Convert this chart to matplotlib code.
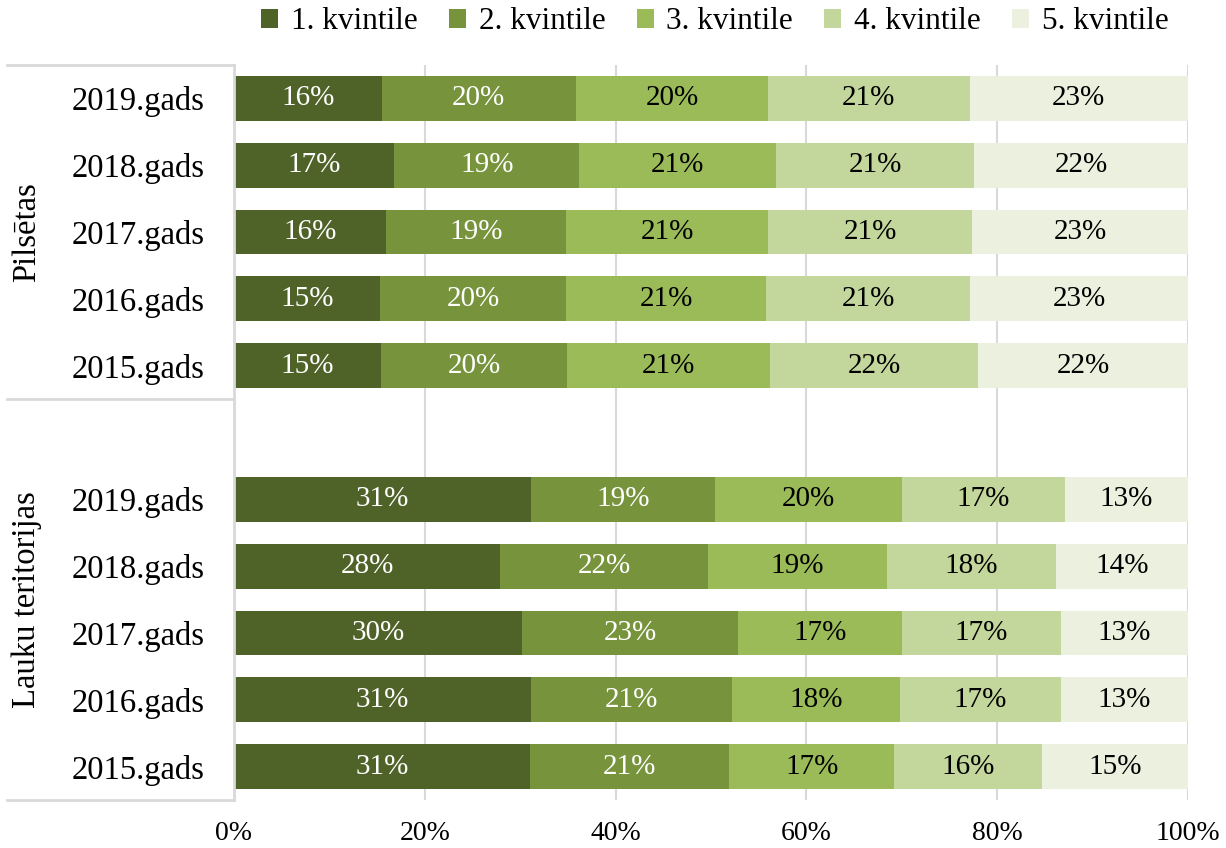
import numpy as np
import matplotlib
matplotlib.use('Agg')
import matplotlib.pyplot as plt
from matplotlib import transforms

plt.rcParams['font.family'] = ['Liberation Serif', 'DejaVu Serif']

# Dane: udziały kwintyli (%) — od góry do dołu
grupy = ['Pilsētas', 'Lauku teritorijas']
lata = ['2019.gads', '2018.gads', '2017.gads', '2016.gads', '2015.gads']
kwintyle = ['1. kvintile', '2. kvintile', '3. kvintile', '4. kvintile', '5. kvintile']

pilsetas = [
    [15.5, 20.3, 20.2, 21.1, 22.9],
    [16.8, 19.4, 20.6, 20.8, 22.4],
    [15.9, 18.9, 21.2, 21.4, 22.6],
    [15.3, 19.5, 21.0, 21.4, 22.8],
    [15.4, 19.5, 21.3, 21.8, 22.0],
]
lauku = [
    [31.1, 19.3, 19.6, 17.1, 12.9],
    [27.9, 21.8, 18.7, 17.8, 13.8],
    [30.2, 22.6, 17.2, 16.7, 13.3],
    [31.1, 21.1, 17.6, 16.9, 13.3],
    [31.0, 20.9, 17.3, 15.5, 15.3],
]
etykiety_pil = [
    [16, 20, 20, 21, 23],
    [17, 19, 21, 21, 22],
    [16, 19, 21, 21, 23],
    [15, 20, 21, 21, 23],
    [15, 20, 21, 22, 22],
]
etykiety_lau = [
    [31, 19, 20, 17, 13],
    [28, 22, 19, 18, 14],
    [30, 23, 17, 17, 13],
    [31, 21, 18, 17, 13],
    [31, 21, 17, 16, 15],
]

KOLORY = ['#4F6228', '#77933C', '#9BBB59', '#C3D69B', '#EBF1DE']
KOLOR_TEKSTU = ['white', 'white', 'black', 'black', 'black']
SZARY = '#D9D9D9'

# wiersze: 0-4 Pilsētas, 5 pusty, 6-10 Lauku
wartosci = np.array(pilsetas + lauku)
etykiety = np.array(etykiety_pil + etykiety_lau)
pozycje = np.array(list(range(5)) + list(range(6, 11)))

fig = plt.figure(figsize=(12.26, 8.48), dpi=100)
ax = fig.add_axes([234 / 1226, 48 / 848, (1188 - 234) / 1226, (800 - 65) / 848])

lewo = np.zeros(len(pozycje))
for k in range(5):
    ax.barh(pozycje, wartosci[:, k], left=lewo, height=0.67,
            color=KOLORY[k], label=kwintyle[k], zorder=2)
    for p, l, w, e in zip(pozycje, lewo, wartosci[:, k], etykiety[:, k]):
        ax.text(l + w / 2, p, f'{e}%', ha='center', va='center',
                fontsize=21, color=KOLOR_TEKSTU[k], zorder=3)
    lewo = lewo + wartosci[:, k]

ax.set_xlim(0, 100)
ax.set_ylim(10.5, -0.5)
ax.set_xticks(np.arange(0, 101, 20))
ax.set_xticklabels([f'{v}%' for v in range(0, 101, 20)], fontsize=20)
ax.set_yticks(pozycje)
ax.set_yticklabels(lata + lata, fontsize=23.5)
ax.tick_params(axis='both', length=0)
ax.tick_params(axis='y', pad=21)
ax.tick_params(axis='x', pad=15)
ax.grid(axis='x', color=SZARY, linewidth=1.5, zorder=0)
for s in ['top', 'right', 'bottom']:
    ax.spines[s].set_visible(False)
ax.spines['left'].set_color(SZARY)
ax.spines['left'].set_linewidth(2)

# linie grupujące po lewej stronie
tr = transforms.blended_transform_factory(fig.transFigure, ax.transData)
x0 = 7 / 1226
x1 = 234 / 1226
for y in [-0.5, 4.5, 10.5]:
    ax.plot([x0, x1], [y, y], transform=tr, color=SZARY, linewidth=2,
            clip_on=False, zorder=1)
# etykiety grup — środek zakresu wierszy (Lauku razem z pustym wierszem)
for nazwa, yc in zip(grupy, [2, 7.5]):
    ax.text(27 / 1226, yc, nazwa, transform=tr, rotation=90,
            ha='center', va='center', fontsize=23.5)

ax.legend(loc='center', bbox_to_anchor=(0.5 + 0.004, 1 + (65 - 22) / 735),
          ncol=5, frameon=False, fontsize=22.5, handlelength=0.55,
          handleheight=0.55, handletextpad=0.4, columnspacing=1.0,
          borderaxespad=0)

fig.savefig('out.png', dpi=100)
